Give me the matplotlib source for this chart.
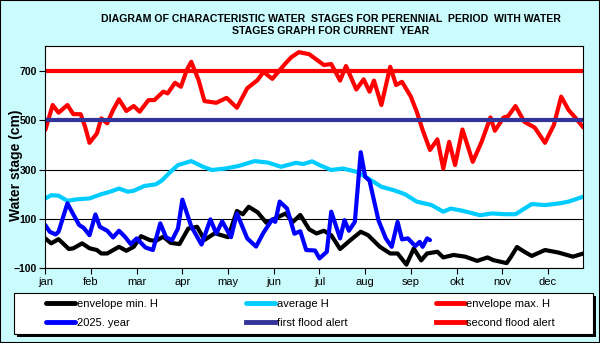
import matplotlib
matplotlib.use("Agg")
import matplotlib.pyplot as plt
from matplotlib.patches import Rectangle

plt.rcParams['font.family'] = ['Liberation Sans', 'DejaVu Sans']

# day of year -> water stage (cm)
min_days = [0, 4, 9, 16, 19, 25, 30, 35, 38, 42, 50, 55, 60, 65, 71, 75, 80, 85, 91, 97,
            103, 108, 115, 124, 130, 134, 138, 144, 150, 156, 163, 168, 173, 179, 184, 189,
            194, 200, 207, 214, 219, 227, 234, 239, 245, 250, 255, 259, 266, 270, 277, 285,
            293, 300, 304, 313, 316, 320, 325, 330, 339, 348, 358, 365]
min_h = [21, 1, 18, -22, -19, 1, -19, -26, -40, -40, -13, -29, -13, 30, 14, 11, 28, 3, -2, 61,
         68, 15, 42, 26, 132, 119, 149, 127, 84, 102, 122, 88, 116, 58, 41, 52,
         34, -22, 14, 48, 34, -13, -40, -40, -85, -20, -68, -40, -33, -56, -46, -53,
         -70, -56, -67, -79, -53, -14, -33, -50, -26, -36, -53, -40]

avg_days = [0, 4, 9, 15, 21, 30, 38, 44, 50, 56, 60, 67, 75, 79, 85, 90, 99, 107, 113, 122,
            131, 142, 151, 160, 170, 175, 181, 186, 194, 202, 211, 218, 228, 236, 244, 252,
            262, 270, 275, 283, 295, 303, 312, 319, 330, 339, 349, 355, 365]
avg_h = [183, 196, 194, 173, 179, 183, 200, 210, 223, 210, 214, 233, 240, 255, 291, 318, 334, 311, 298, 304,
         314, 334, 328, 311, 327, 322, 333, 318, 298, 304, 291, 268, 230, 217, 200, 170,
         156, 129, 142, 133, 115, 122, 119, 119, 160, 156, 163, 170, 190]

max_days = [0, 5, 9, 15, 19, 24, 27, 30, 35, 38, 42, 46, 50, 55, 60, 64, 70, 74, 80, 83,
            88, 92, 96, 99, 104, 108, 116, 123, 130, 137, 144, 148, 154, 163, 167, 172,
            179, 189, 194, 200, 204, 211, 216, 220, 223, 228, 234, 238, 242, 248, 252, 256,
            261, 266, 270, 274, 278, 283, 290, 296, 302, 305, 311, 314, 319, 325, 332, 339,
            345, 350, 355, 360, 365]
max_h = [460, 561, 530, 561, 524, 524, 473, 408, 446, 507, 487, 541, 584, 537, 557, 534, 581, 581, 615, 608,
         651, 635, 703, 736, 662, 577, 570, 590, 550, 629, 662, 695, 667, 730, 755, 775,
         767, 723, 727, 660, 719, 624, 665, 615, 660, 561, 716, 642, 655, 595, 534, 460,
         379, 422, 304, 412, 318, 462, 331, 412, 511, 457, 511, 516, 557, 493, 470, 408,
         480, 595, 541, 507, 470]

cur_days = [0, 3, 7, 9, 15, 18, 23, 26, 30, 34, 37, 42, 46, 50, 54, 58, 62, 68, 73, 78,
            82, 86, 90, 93, 99, 106, 112, 116, 120, 126, 130, 137, 143, 148, 154, 156,
            159, 164, 169, 173, 177, 183, 186, 191, 194, 200, 203, 206, 210, 214, 217, 220,
            226, 231, 235, 239, 242, 246, 251, 254, 256, 259, 261]
cur_h = [75, 48, 37, 48, 163, 129, 75, 64, 34, 118, 68, 52, 25, 52, 28, -2, 21, -16, -26, 82,
         25, 14, 61, 178, 70, -4, 98, 41, 90, 26, 122, 21, -12, 44, 98, 88,
         170, 142, 40, 50, -26, -28, -60, -33, 129, 21, 95, 52, 88, 370, 271, 254,
         95, 21, -13, 88, 17, 21, -10, 7, -13, 21, 14]

first_alert = 500
second_alert = 700

months = ['jan', 'feb', 'mar', 'apr', 'may', 'jun', 'jul', 'aug', 'sep', 'okt', 'nov', 'dec']
month_ticks = [31 * i for i in range(12)]

BG = '#cafbfd'

fig = plt.figure(figsize=(6.0, 3.43), dpi=100, facecolor=BG)
ax = fig.add_axes([45.3 / 600, 1 - 268.3 / 343, 538 / 600, 222.3 / 343])
ax.set_facecolor('white')

style = dict(lw=3, solid_joinstyle='round', solid_capstyle='round')
l_min, = ax.plot(min_days, min_h, color='black', label='envelope min. H', **style)
l_avg, = ax.plot(avg_days, avg_h, color='#00ccff', label='average H', **style)
l_max, = ax.plot(max_days, max_h, color='#ff0000', label='envelope max. H', **style)
l_cur, = ax.plot(cur_days, cur_h, color='#0000ff', label='2025. year', **style)
l_first = ax.axhline(first_alert, color='#333399', lw=3, label='first flood alert')
l_second = ax.axhline(second_alert, color='#ff0000', lw=3, label='second flood alert')

ax.set_xlim(0, 365)
ax.set_ylim(-100, 800)
ax.set_yticks([-100, 100, 300, 500, 700])
ax.set_xticks(month_ticks)
ax.set_xticklabels(months, fontsize=8)
ax.grid(axis='y', color='black', lw=0.8)
ax.set_axisbelow(True)
for lbl in ax.get_yticklabels():
    lbl.set_fontsize(7.5)
    lbl.set_fontweight('bold')
ax.tick_params(axis='both', direction='out', length=4, width=0.8, pad=2, color='black')
for sp in ax.spines.values():
    sp.set_linewidth(0.8)

fig.text(16 / 600, 1 - 165 / 343, 'Water stage (cm)', rotation=90, ha='center', va='center',
         fontsize=10, fontweight='bold')

fig.text(331 / 600, 1 - 25 / 343,
         'DIAGRAM OF CHARACTERISTIC WATER  STAGES FOR PERENNIAL  PERIOD  WITH WATER\n'
         'STAGES GRAPH FOR CURRENT  YEAR',
         ha='center', va='center', fontsize=7.6, fontweight='bold', linespacing=1.35)

# legend frame with hard black shadow
lx, ly, lw_, lh = 14 / 600, 1 - 334 / 343, 579 / 600, 41 / 343
fig.patches.append(Rectangle((lx + 3 / 600, ly - 3 / 343), lw_, lh, transform=fig.transFigure,
                             facecolor='black', edgecolor='none', zorder=0))
fig.patches.append(Rectangle((lx, ly), lw_, lh, transform=fig.transFigure,
                             facecolor='white', edgecolor='black', lw=0.8, zorder=1))

# legend fills column by column, so order gives rows: min/avg/max, then current/alerts
handles = [l_min, l_cur, l_avg, l_first, l_max, l_second]
labels = [h.get_label() for h in handles]
leg = fig.legend(handles, labels, ncol=3, frameon=False, mode='expand',
                 loc='center', bbox_to_anchor=(46 / 600, ly, (555 - 46) / 600, lh),
                 borderaxespad=0, borderpad=0, handlelength=2.6, handletextpad=0.15,
                 labelspacing=0.75, fontsize=8)
for h in leg.legend_handles:
    h.set_linewidth(3.5)

# outer frame
fig.patches.append(Rectangle((0, 0), 1, 1, transform=fig.transFigure, fill=False,
                             edgecolor='black', lw=1.5))

fig.savefig('out.png', dpi=100, facecolor=BG)
